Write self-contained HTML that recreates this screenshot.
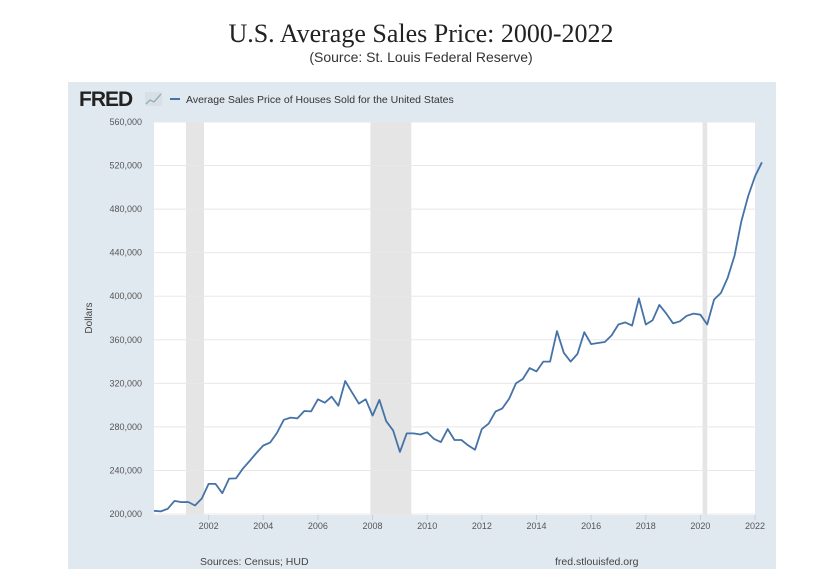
<!DOCTYPE html>
<html><head><meta charset="utf-8"><style>
body{margin:0;background:#fff;width:836px;height:582px;overflow:hidden;font-family:"Liberation Sans",sans-serif}
</style></head><body>
<svg width="836" height="582" xmlns="http://www.w3.org/2000/svg">
<text x="421" y="42" text-anchor="middle" font-family="Liberation Serif" font-size="26" fill="#222">U.S. Average Sales Price: 2000-2022</text>
<text x="421" y="62" text-anchor="middle" font-family="Liberation Sans" font-size="14" fill="#333">(Source: St. Louis Federal Reserve)</text>
<rect x="68" y="82" width="708" height="487" fill="#e1e9f0"/>
<text x="79" y="106" font-family="Liberation Sans" font-weight="bold" font-size="21" fill="#222" letter-spacing="-1">FRED</text>
<g><rect x="145" y="92" width="17" height="14" fill="#d8dfe6"/><polyline points="146,104 150,100 154,102 161,94" fill="none" stroke="#8aa" stroke-width="1.2"/></g>
<line x1="170" y1="99" x2="180" y2="99" stroke="#4572a7" stroke-width="2"/>
<text x="186" y="103" font-size="10.5" fill="#333">Average Sales Price of Houses Sold for the United States</text>
<rect x="154" y="122" width="601" height="393" fill="#fff"/>
<g id="rec"></g><g id="grid"></g><g id="axes"></g><g id="line"></g>
<text transform="translate(92,318) rotate(-90)" text-anchor="middle" font-size="10" fill="#444">Dollars</text>
<text x="200" y="565" font-size="10.5" fill="#444">Sources: Census; HUD</text>
<text x="555" y="565" font-size="10.5" fill="#444">fred.stlouisfed.org</text>
</svg>
<script>
const values=[202.9,202.4,204.8,212.0, 210.9,211.0,207.8,214.2, 227.6,227.6,219.1,232.5, 232.7,241.6,248.7,256.0,
262.9,265.6,274.4,286.5, 288.5,287.8,294.6,294.2, 305.3,302.2,307.7,299.4, 322.1,311.5,301.4,305.3,
290.4,304.8,285.2,276.8, 257.0,274.0,274.0,273.0, 275.0,269.0,266.0,278.0, 268.0,268.0,263.0,259.0,
278.0,283.0,294.0,297.0, 306.0,320.0,324.0,334.0, 331.0,340.0,340.0,368.0, 348.0,340.0,347.0,367.0,
356.0,357.0,358.0,364.0, 374.0,376.0,373.0,398.0, 374.0,378.0,392.0,384.0, 375.0,377.0,382.0,384.0,
383.0,374.0,397.0,403.0, 417.0,437.0,469.0,492.0, 510.0,523.0];
const yTicks=[200,240,280,320,360,400,440,480,520,560];
const xTicks=[2002,2004,2006,2008,2010,2012,2014,2016,2018,2020,2022];
const recessions=[[2001.17,2001.83],[2007.92,2009.42],[2020.08,2020.25]];
const startYear=2000;
const NS="http://www.w3.org/2000/svg";
const X=t=>154+(t-2000)*27.32;
const Y=v=>514-(v-200)*392/360;
function mk(tag,attrs,parent){const e=document.createElementNS(NS,tag);for(const k in attrs)e.setAttribute(k,attrs[k]);document.getElementById(parent).appendChild(e);return e;}
recessions.forEach(r=>{const e=mk('rect',{x:X(r[0]),y:122,width:X(r[1])-X(r[0]),height:393,fill:'#e5e5e5'},'rec');

});
yTicks.forEach(v=>{const l=mk('line',{x1:154,x2:755,y1:Y(v),y2:Y(v),stroke:'#e8e8e8','stroke-width':1},'grid');


const t=mk('text',{x:142,y:Y(v)+3,'text-anchor':'end','font-size':9,fill:'#555'},'axes');t.textContent=v.toLocaleString('en-US')+',000';

});
xTicks.forEach(yr=>{const l=mk('line',{x1:X(yr),x2:X(yr),y1:515,y2:520,stroke:'#ccd',},'axes');


const t=mk('text',{x:X(yr),y:529,'text-anchor':'middle','font-size':9,fill:'#555'},'axes');t.textContent=yr;

});
const pts=values.map((v,i)=>X(startYear+i*0.25).toFixed(1)+','+Y(v).toFixed(1)).join(' ');
const pl=mk('polyline',{points:pts,fill:'none',stroke:'#4572a7','stroke-width':1.8,'stroke-linejoin':'round'},'line');


</script>
</body></html>
